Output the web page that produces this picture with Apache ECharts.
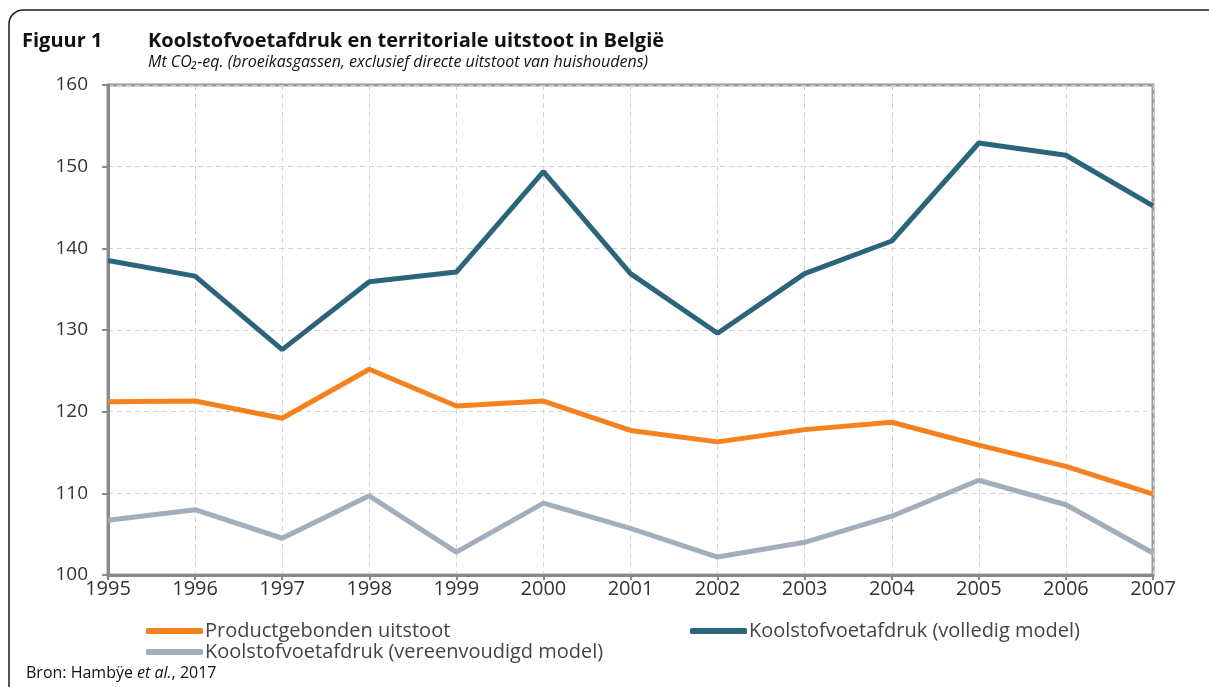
<!DOCTYPE html>
<html>
<head>
<meta charset="utf-8">
<script src="https://cdn.jsdelivr.net/npm/echarts@6/dist/echarts.min.js"></script>
<style>
  html, body { margin: 0; padding: 0; background: #fff; }
  #chart { width: 1209px; height: 687px; }
</style>
</head>
<body>
<div id="chart"></div>
<script>
// jaren (x-as)
var years = ['1995', '1996', '1997', '1998', '1999', '2000', '2001', '2002', '2003', '2004', '2005', '2006', '2007'];
// Mt CO2-eq.
var productgebonden = [121.2, 121.3, 119.2, 125.2, 120.7, 121.3, 117.7, 116.3, 117.8, 118.7, 115.9, 113.3, 109.9];
var volledigModel = [138.5, 136.6, 127.6, 135.9, 137.1, 149.4, 136.9, 129.6, 136.9, 140.9, 152.9, 151.4, 145.2];
var vereenvoudigdModel = [106.7, 108.0, 104.5, 109.7, 102.8, 108.8, 105.7, 102.2, 104.0, 107.2, 111.6, 108.6, 102.7];
var yTicks = [100, 110, 120, 130, 140, 150, 160];

var seriesNames = [
  'Productgebonden uitstoot',
  'Koolstofvoetafdruk (volledig model)',
  'Koolstofvoetafdruk (vereenvoudigd model)'
];

var chart = echarts.init(document.getElementById('chart'));
var font = 'Open Sans';

var legendBase = {
  icon: 'roundRect',
  itemWidth: 57,
  itemHeight: 6,
  itemGap: 2,
  padding: 0,
  textStyle: { fontFamily: font, fontSize: 20, color: '#444', padding: [0, 0, 0, -3] }
};

var option = {
  animation: false,
  backgroundColor: '#fff',
  graphic: [
    // kader met afgeronde hoek linksboven
    {
      type: 'rect',
      shape: { x: 9, y: 10, width: 1300, height: 800, r: [14, 0, 0, 0] },
      style: { fill: 'none', stroke: '#1a1a1a', lineWidth: 1.5 },
      silent: true
    },
    {
      type: 'text', left: 22, top: 31,
      style: { text: 'Figuur 1', font: 'bold 20px "' + font + '"', fill: '#111' }
    },
    {
      type: 'text', left: 148, top: 31,
      style: { text: 'Koolstofvoetafdruk en territoriale uitstoot in België', font: 'bold 20px "' + font + '"', fill: '#111' }
    },
    {
      type: 'text', left: 148, top: 54,
      style: { text: 'Mt CO₂-eq. (broeikasgassen, exclusief directe uitstoot van huishoudens)', font: 'italic 16px "' + font + '"', fill: '#111' }
    },
    {
      type: 'text', left: 26, top: 665,
      style: {
        text: '{n|Bron: Hambÿe }{i|et al.}{n|, 2017}',
        rich: {
          n: { fontFamily: font, fontSize: 16, fill: '#111' },
          i: { fontFamily: font, fontSize: 16, fontStyle: 'italic', fill: '#111' }
        }
      }
    }
  ],
  legend: [
    Object.assign({ data: [seriesNames[0]], left: 146, top: 621 }, legendBase),
    Object.assign({ data: [seriesNames[1]], left: 690, top: 621 }, legendBase),
    Object.assign({ data: [seriesNames[2]], left: 146, top: 642 }, legendBase)
  ],
  grid: {
    left: 108, right: 56, top: 85, bottom: 112,
    show: true, borderColor: '#999', borderWidth: 3
  },
  xAxis: {
    type: 'category',
    data: years,
    boundaryGap: false,
    axisLine: { lineStyle: { color: '#8a8a8a', width: 3 } },
    axisTick: { show: true, length: 5, lineStyle: { color: '#8a8a8a', width: 2 } },
    axisLabel: { fontFamily: font, fontSize: 20, color: '#333', margin: 4 },
    splitLine: { show: true, lineStyle: { color: '#d4d4d4', type: [5, 4], width: 1 } }
  },
  yAxis: {
    type: 'value',
    min: yTicks[0],
    max: yTicks[yTicks.length - 1],
    interval: 10,
    axisLine: { show: true, lineStyle: { color: '#8a8a8a', width: 3 } },
    axisTick: { show: true, length: 6, lineStyle: { color: '#8a8a8a', width: 2 } },
    axisLabel: { fontFamily: font, fontSize: 19, color: '#333', margin: 20 },
    splitLine: { show: true, lineStyle: { color: '#d4d4d4', type: [5, 4], width: 1 } }
  },
  series: [
    {
      name: seriesNames[0], type: 'line', data: productgebonden,
      symbol: 'none', color: '#F5821F', lineStyle: { width: 5, color: '#F5821F' }, z: 3
    },
    {
      name: seriesNames[1], type: 'line', data: volledigModel,
      symbol: 'none', color: '#2B657B', lineStyle: { width: 5, color: '#2B657B' }, z: 4
    },
    {
      name: seriesNames[2], type: 'line', data: vereenvoudigdModel,
      symbol: 'none', color: '#A2AEBB', lineStyle: { width: 5, color: '#A2AEBB' }, z: 2
    }
  ]
};

chart.setOption(option);
</script>
</body>
</html>
